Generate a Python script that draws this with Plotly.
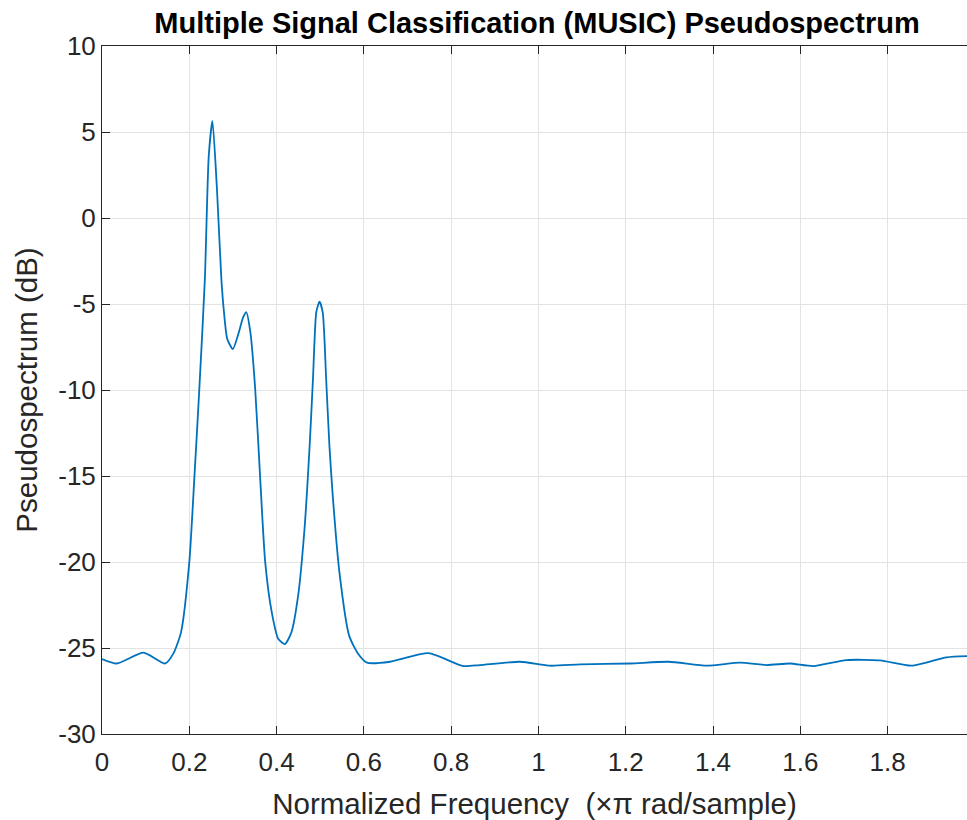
import plotly.graph_objects as go

# Normalized frequency (x pi rad/sample)
freq = [0.0, 0.034, 0.095, 0.145, 0.164, 0.181, 0.2, 0.2115, 0.223, 0.2357,
        0.2445, 0.253, 0.2635, 0.2735, 0.2795, 0.287, 0.2999, 0.3135, 0.3233, 0.3308,
        0.34, 0.351, 0.3625, 0.374, 0.389, 0.404, 0.4192, 0.434, 0.4494, 0.464, 0.4758,
        0.4834, 0.491, 0.4984, 0.5058, 0.5136, 0.5211, 0.5287, 0.544, 0.5663, 0.586,
        0.607, 0.66, 0.748, 0.828, 0.866, 0.958, 1.027, 1.096, 1.21, 1.298, 1.386,
        1.462, 1.523, 1.576, 1.63, 1.706, 1.783, 1.855, 1.935, 1.982]
# Pseudospectrum (dB)
psd_db = [-25.64, -25.9, -25.27, -25.9, -25.3, -24.09, -20.02, -15.17, -9.94, -3.55,
          3.56, 5.64, 1.63, -3.55, -5.48, -7.03, -7.62, -6.65, -5.78, -5.48,
          -6.65, -9.94, -15.17, -20.02, -22.93, -24.48, -24.77, -24.09, -21.96, -18.08, -13.24,
          -9.36, -5.48, -4.86, -5.5, -9.36, -13.24, -16.14, -20.6, -24.28, -25.3,
          -25.85, -25.8, -25.3, -26.05, -25.99, -25.8, -26.03, -25.95, -25.9, -25.8, -26.03,
          -25.85, -25.99, -25.9, -26.05, -25.7, -25.72, -26.03, -25.54, -25.47]

x_tickvals = [0, 0.2, 0.4, 0.6, 0.8, 1.0, 1.2, 1.4, 1.6, 1.8]
x_ticktext = ["0", "0.2", "0.4", "0.6", "0.8", "1", "1.2", "1.4", "1.6", "1.8"]
y_tickvals = [-30, -25, -20, -15, -10, -5, 0, 5, 10]
y_ticktext = ["-30", "-25", "-20", "-15", "-10", "-5", "0", "5", "10"]

FONT = "Liberation Sans, Arial, Helvetica, sans-serif"
AX = "#262626"
W, H = 967, 820

fig = go.Figure()
fig.add_trace(go.Scatter(
    x=freq, y=psd_db, mode="lines",
    line=dict(color="#0072BD", width=1.8, shape="spline", smoothing=0.6),
    hoverinfo="skip", showlegend=False,
))

fig.update_layout(
    width=W, height=H,
    margin=dict(l=102, r=0, t=46, b=86),
    paper_bgcolor="white", plot_bgcolor="white",
    font=dict(family=FONT, color=AX, size=26),
    title=dict(
        text="<b>Multiple Signal Classification (MUSIC) Pseudospectrum</b>",
        font=dict(family=FONT, size=29, color="black"),
        x=(537 / W), xanchor="center", xref="container",
        y=1 - 22.5 / H, yanchor="middle", yref="container",
    ),
    xaxis=dict(
        range=[0, 1.982], tickvals=x_tickvals, ticktext=x_ticktext,
        ticks="inside", ticklen=8, tickcolor=AX, tickwidth=1,
        showline=True, linecolor=AX, linewidth=1, mirror="ticks",
        showgrid=True, gridcolor="#e3e3e3", gridwidth=1, zeroline=False,
        tickfont=dict(size=26, color=AX), ticklabelstandoff=5,
        title=dict(text="Normalized Frequency  (×π rad/sample)",
                   font=dict(size=29.5, color=AX), standoff=19),
    ),
    yaxis=dict(
        range=[-30, 10], tickvals=y_tickvals, ticktext=y_ticktext,
        ticks="inside", ticklen=8, tickcolor=AX, tickwidth=1,
        showline=True, linecolor=AX, linewidth=1, mirror=False,
        showgrid=True, gridcolor="#e3e3e3", gridwidth=1, zeroline=False,
        tickfont=dict(size=26, color=AX),
        title=dict(text="Pseudospectrum (dB)",
                   font=dict(size=29.5, color=AX), standoff=11),
    ),
)

reset_page = (
    "document.documentElement.style.margin='0';"
    "document.documentElement.style.overflow='hidden';"
    "document.body.style.margin='0';"
    "document.body.style.overflow='hidden';"
)
fig.write_html("out.html", config={"displayModeBar": False}, post_script=reset_page)
